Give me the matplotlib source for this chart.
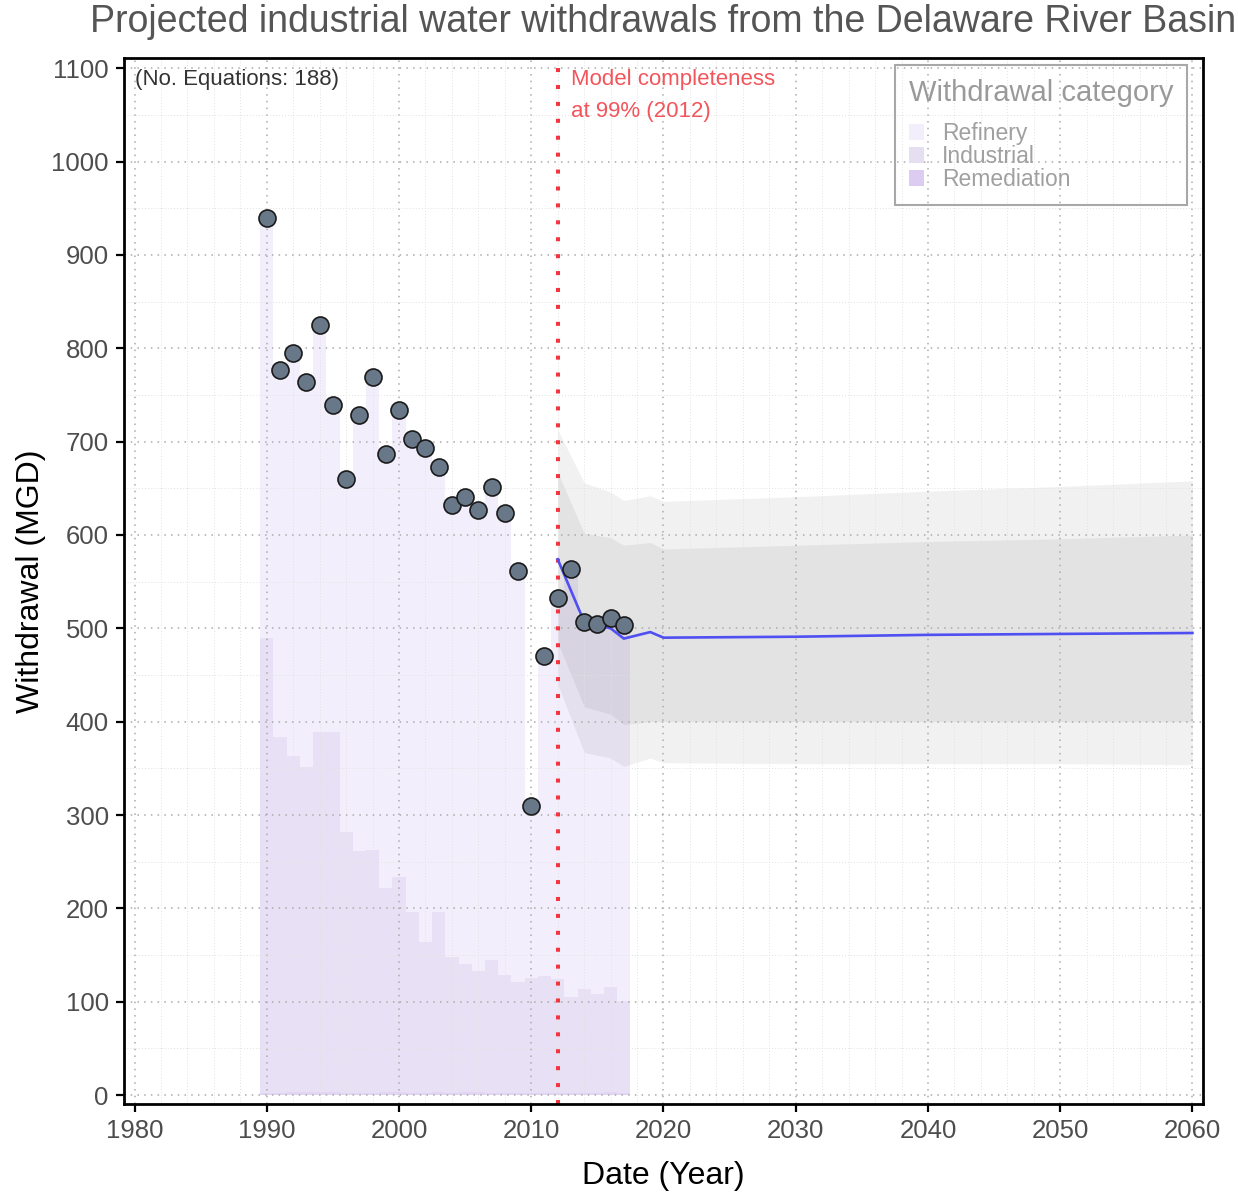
import matplotlib
matplotlib.use('Agg')
from matplotlib import pyplot
from matplotlib.patches import Patch
from matplotlib.ticker import MultipleLocator
import numpy

pyplot.rcParams['font.family'] = ['Liberation Sans', 'DejaVu Sans']

# observed annual withdrawals (MGD)
years = numpy.arange(1990, 2018)
withdrawal = numpy.array([940, 777, 795, 764, 825, 739, 660, 729, 769, 687,
                          734, 703, 693, 673, 632, 641, 627, 651, 624, 561,
                          310, 470, 532, 564, 507, 505, 511, 504])
industrial = numpy.array([488, 382, 360, 348, 386, 386, 280, 259, 261, 219,
                          231, 194, 162, 193, 146, 137, 130, 143, 127, 119,
                          123, 126, 122, 103, 112, 106, 113, 99])
remediation = numpy.array([2, 2, 3, 3, 3, 3, 2, 2, 2, 3,
                           3, 2, 2, 3, 2, 3, 3, 2, 2, 2,
                           2, 2, 2, 2, 2, 2, 3, 2])
refinery = withdrawal - industrial - remediation

# projection (median and uncertainty bands)
proj_years = numpy.array([2012, 2014, 2016, 2017, 2019, 2020, 2030, 2040, 2050, 2060])
proj_median = numpy.array([574, 507, 500, 489, 496, 490, 491, 493, 494, 495])
proj_outer_hi = numpy.array([713, 656, 646, 637, 642, 636, 641, 647, 652, 658])
proj_inner_hi = numpy.array([667, 602, 597, 589, 592, 585, 589, 593, 596, 600])
proj_inner_lo = numpy.array([485, 416, 408, 397, 400, 400, 400, 400, 400, 400])
proj_outer_lo = numpy.array([440, 367, 361, 352, 361, 356, 355, 355, 355, 354])

categories = ['Refinery', 'Industrial', 'Remediation']
cat_colors = ['#F3EEFC', '#E8E0F4', '#E2D5F4']

fig = pyplot.figure(figsize=(12.38, 11.94), dpi=100)
ax = fig.add_axes([124 / 1238, 1 - 1104 / 1194, (1203 - 124) / 1238, (1104 - 58) / 1194])

# stacked columns, remediation at the bottom
ax.bar(years, remediation, width=1, color=cat_colors[2], linewidth=0, zorder=1)
ax.bar(years, industrial, bottom=remediation, width=1, color=cat_colors[1], linewidth=0, zorder=1)
ax.bar(years, refinery, bottom=remediation + industrial, width=1, color=cat_colors[0], linewidth=0, zorder=1)

ax.fill_between(proj_years, proj_outer_lo, proj_outer_hi, color='black', alpha=0.055, linewidth=0, zorder=1.2)
ax.fill_between(proj_years, proj_inner_lo, proj_inner_hi, color='black', alpha=0.055, linewidth=0, zorder=1.2)

ax.axvline(2012, color='#F2353F', linewidth=2.9, linestyle=(0, (1, 3.2)), zorder=2)
ax.plot(proj_years, proj_median, color='#4F4FF2', linewidth=1.9, zorder=2.5)
ax.scatter(years, withdrawal, s=150, facecolor='#687888', edgecolor='#1A1A1A', linewidth=1.2, zorder=3)

ax.set_xlim(1979.2, 2060.8)
ax.set_ylim(-9.6, 1111)
ax.xaxis.set_major_locator(MultipleLocator(10))
ax.xaxis.set_minor_locator(MultipleLocator(2))
ax.yaxis.set_major_locator(MultipleLocator(100))
ax.yaxis.set_minor_locator(MultipleLocator(50))

ax.set_axisbelow('line')
ax.grid(which='major', color='#ABABAB', linestyle=(0, (1, 3.4)), linewidth=1.1)
ax.grid(which='minor', color='#E2E2E2', linestyle=(0, (1, 2)), linewidth=0.7)

for side in ax.spines.values():
    side.set_linewidth(2.0)
    side.set_color('black')
ax.tick_params(which='major', length=6, width=1.6, color='black', labelsize=18.5,
               labelcolor='#4D4D4D', pad=5)
ax.tick_params(which='minor', length=0)

ax.set_xlabel('Date (Year)', fontsize=23, labelpad=13)
ax.set_ylabel('Withdrawal (MGD)', fontsize=23, labelpad=4)

fig.text((124 + 1203) / 2 / 1238, 1 - 22 / 1194,
         'Projected industrial water withdrawals from the Delaware River Basin',
         ha='center', va='center', fontsize=27, color='#555555')

ax.text(1980.0, 1088, '(No. Equations: 188)', fontsize=16, color='#333333', va='center')
ax.text(2013.0, 1088, 'Model completeness', fontsize=16, color='#F2555B', va='center')
ax.text(2013.0, 1054, 'at 99% (2012)', fontsize=16, color='#F2555B', va='center')

handles = [Patch(facecolor=c, edgecolor='none') for c in ['#F2EEFB', '#E6DFF2', '#DCCCF2']]
leg = ax.legend(handles, categories, title='Withdrawal category', loc='upper right',
                bbox_to_anchor=(0.9852, 0.9933), borderaxespad=0, fontsize=16.5,
                title_fontsize=21, labelspacing=0.0, handlelength=0.65, handleheight=0.65,
                handletextpad=0.8, alignment='left', fancybox=False, borderpad=0.6)
frame = leg.get_frame()
frame.set_facecolor('none')
frame.set_alpha(None)
frame.set_edgecolor('#A8A8A8')
frame.set_linewidth(1.5)
# gap between legend title and entries
leg._legend_box.sep = 11
leg.get_title().set_color('#9A9A9A')
for t in leg.get_texts():
    t.set_color('#A0A0A0')

fig.savefig('out.png', dpi=100)
